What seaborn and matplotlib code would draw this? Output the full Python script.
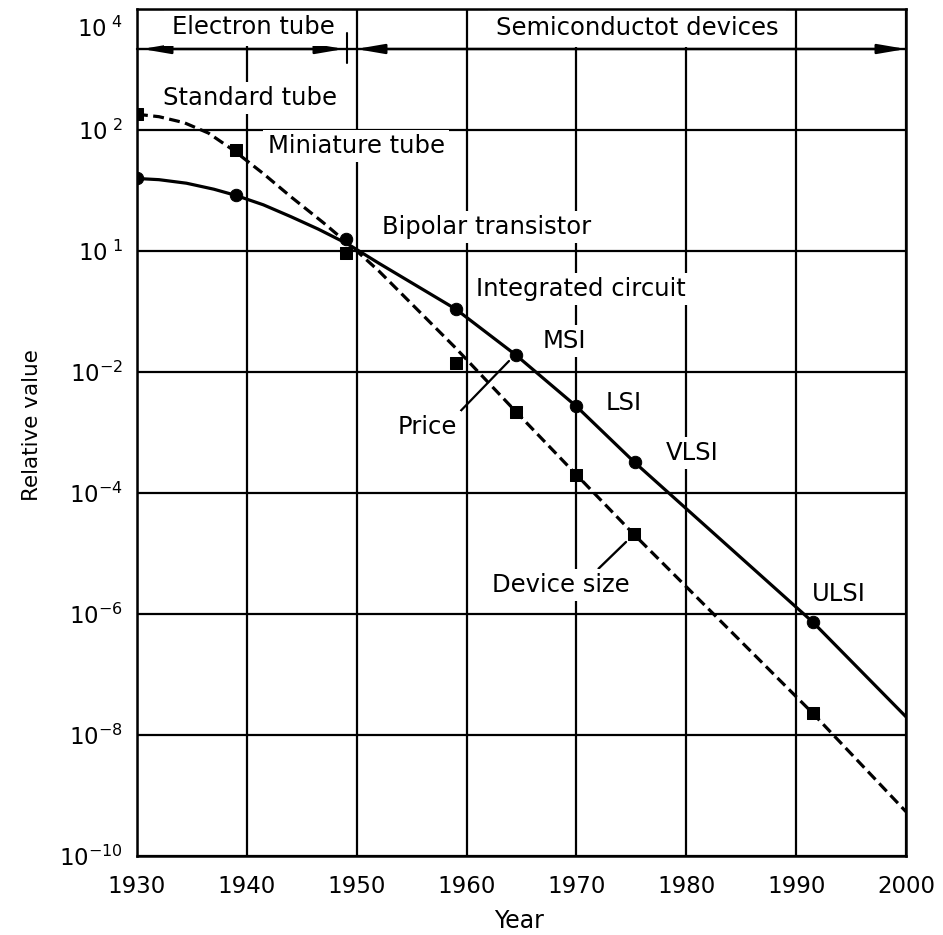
import numpy as np
import pandas as pd
import matplotlib
matplotlib.use("Agg")
import matplotlib.pyplot as plt
import matplotlib.transforms as mtransforms
from matplotlib.ticker import FixedLocator, NullLocator
import seaborn as sns

# ---------------- data ----------------
x_ticks = [1930, 1940, 1950, 1960, 1970, 1980, 1990, 2000]
y_ticks = [1e4, 1e2, 1e0, 1e-2, 1e-4, 1e-6, 1e-8, 1e-10]
y_tick_labels = [r"$10^{\ 4}$", r"$10^{\ 2}$", r"$10^{\ 1}$", r"$10^{-2}$",
                 r"$10^{-4}$", r"$10^{-6}$", r"$10^{-8}$", r"$10^{-10}$"]

# solid curve (with circle markers)
solid_curve_year = [1930, 1932, 1934.5, 1937, 1939, 1941.5, 1944, 1946.5, 1949.2,
                    1952, 1959, 1964.5, 1970, 1975.3, 1991.5, 2000]
solid_curve_value = [15.8, 15.1, 13.2, 10.5, 8.3, 5.8, 3.7, 2.3, 1.3,
                     0.63, 0.11, 0.019, 0.0027, 3.2e-4, 7.4e-7, 2.0e-8]
solid_marker_year = [1930, 1939, 1949, 1959, 1964.5, 1970, 1975.3, 1991.5]
solid_marker_value = [15.8, 8.3, 1.6, 0.11, 0.019, 0.0027, 3.2e-4, 7.4e-7]

# dashed curve (with square markers)
dashed_curve_year = [1930, 1932, 1934.3, 1936.5, 1938.8, 1941.5, 1944, 1947,
                     1950, 1952, 1959, 1964.5, 1970, 1975.2, 1991.5, 2000]
dashed_curve_value = [182, 166, 132, 89, 46, 19, 7.9, 2.9,
                      1.0, 0.47, 0.025, 0.0022, 2.0e-4, 2.1e-5, 2.3e-8, 5.4e-10]
dashed_marker_year = [1930, 1939, 1949, 1959, 1964.5, 1970, 1975.2, 1991.5]
dashed_marker_value = [186, 47, 0.93, 0.014, 0.0022, 2.0e-4, 2.1e-5, 2.3e-8]

era_labels = ["Electron tube", "Semiconductot devices"]
device_labels = ["Standard tube", "Miniature tube", "Bipolar transistor",
                 "Integrated circuit", "MSI", "LSI", "VLSI", "ULSI"]
curve_labels = ["Price", "Device size"]

# ---------------- figure ----------------
sns.set_theme(style="white")
plt.rcParams["font.family"] = ["DejaVu Sans"]
plt.rcParams["mathtext.fontset"] = "dejavusans"

W, H = 943, 935
fig = plt.figure(figsize=(W / 100, H / 100), dpi=100)
AX_L, AX_R, AX_T, AX_B = 137, 906, 9, 856
ax = fig.add_axes([AX_L / W, 1 - AX_B / H, (AX_R - AX_L) / W, (AX_B - AX_T) / H])


def pa(px, py):
    """pixel position in the reference -> axes fraction"""
    return ((px - AX_L) / (AX_R - AX_L), (AX_B - py) / (AX_B - AX_T))


solid_curve = pd.DataFrame({"year": solid_curve_year, "value": solid_curve_value})
dashed_curve = pd.DataFrame({"year": dashed_curve_year, "value": dashed_curve_value})
solid_pts = pd.DataFrame({"year": solid_marker_year, "value": solid_marker_value})
dashed_pts = pd.DataFrame({"year": dashed_marker_year, "value": dashed_marker_value})

sns.lineplot(data=solid_curve, x="year", y="value", ax=ax, color="black",
             lw=2.3, sort=False, estimator=None, zorder=3)
sns.lineplot(data=dashed_curve, x="year", y="value", ax=ax, color="black",
             lw=2.3, sort=False, estimator=None, linestyle=(0, (3.4, 1.7)), zorder=3)
sns.scatterplot(data=solid_pts, x="year", y="value", ax=ax, marker="o", s=80,
                color="black", edgecolor="black", zorder=4)
sns.scatterplot(data=dashed_pts, x="year", y="value", ax=ax, marker="s", s=85,
                color="black", edgecolor="black", zorder=4)

ax.set_yscale("log")
ax.set_xlim(1930, 2000)
ax.set_ylim(1e-10, 1e4)
ax.xaxis.set_major_locator(FixedLocator(x_ticks))
ax.set_xticklabels([str(v) for v in x_ticks])
ax.yaxis.set_major_locator(FixedLocator(y_ticks))
ax.yaxis.set_minor_locator(NullLocator())
ax.set_yticklabels(y_tick_labels)
ax.grid(True, which="major", color="black", lw=1.6)
ax.set_axisbelow(True)
for s in ax.spines.values():
    s.set_color("black")
    s.set_linewidth(1.8)
    s.set_zorder(10)
ax.tick_params(axis="x", length=0, pad=14, labelsize=16.5, labelcolor="black")
ax.tick_params(axis="y", length=0, pad=10, labelsize=16.5, labelcolor="black")

# the top tick label sits a little lower than its grid line in the reference
for t in ax.yaxis.get_major_ticks():
    if np.isclose(t.get_loc(), 1e4):
        t.label1.set_transform(t.label1.get_transform() +
                               mtransforms.ScaledTranslation(0, -0.18, fig.dpi_scale_trans))

ax.set_xlabel("Year", fontsize=17, color="black")
ax.set_ylabel("Relative value", fontsize=15.5, color="black")
ax.xaxis.set_label_coords(*pa(519, 909))
ax.yaxis.set_label_coords(*pa(42, 425))

# ---------------- era band ----------------
yb = pa(0, 49)[1]
ax.plot([0, 1], [yb, yb], transform=ax.transAxes, color="black", lw=1.7, zorder=5,
        clip_on=False)
arrow_kw = dict(arrowstyle="<|-|>,head_length=1.4,head_width=0.24", color="black",
                lw=1.7, shrinkA=0, shrinkB=0)
ax.annotate("", xy=pa(142, 49), xytext=pa(344, 49), xycoords="axes fraction",
            textcoords="axes fraction", arrowprops=arrow_kw, zorder=6)
ax.annotate("", xy=pa(356, 49), xytext=pa(906, 49), xycoords="axes fraction",
            textcoords="axes fraction", arrowprops=arrow_kw, zorder=6)
ax.plot([pa(347, 0)[0]] * 2, [pa(0, 33)[1], pa(0, 63)[1]], transform=ax.transAxes,
        color="black", lw=1.5, zorder=6)

box = dict(boxstyle="square,pad=0.18", fc="white", ec="none")
fs = 17.5
era_pos = [(253, 27), (637, 28)]
for txt, (px, py) in zip(era_labels, era_pos):
    ax.text(*pa(px, py), txt, transform=ax.transAxes, ha="center", va="center",
            fontsize=fs, color="black",
            bbox=dict(boxstyle="square,pad=0.3", fc="white", ec="none"), zorder=7)

device_pos = [(250, 98), (356, 146), (487, 227), (581, 289), (564, 341),
              (624, 403), (692, 453), (839, 594)]
for txt, (px, py) in zip(device_labels, device_pos):
    ax.text(*pa(px, py), txt, transform=ax.transAxes, ha="center", va="center",
            fontsize=fs, color="black", bbox=box, zorder=7)

# curve labels with leader lines
ax.annotate(curve_labels[0], xy=pa(509, 361), xytext=pa(427, 427),
            xycoords="axes fraction", textcoords="axes fraction",
            ha="center", va="center", fontsize=fs, color="black", bbox=box,
            arrowprops=dict(arrowstyle="-", color="black", lw=1.6,
                            relpos=(1.0, 1.0), shrinkA=0, shrinkB=0), zorder=7)
ax.annotate(curve_labels[1], xy=pa(626, 542), xytext=pa(561, 585),
            xycoords="axes fraction", textcoords="axes fraction",
            ha="center", va="center", fontsize=fs, color="black", bbox=box,
            arrowprops=dict(arrowstyle="-", color="black", lw=1.7,
                            relpos=(0.74, 1.0), shrinkA=0, shrinkB=0), zorder=7)

fig.savefig("out.png", dpi=100, facecolor="white")
